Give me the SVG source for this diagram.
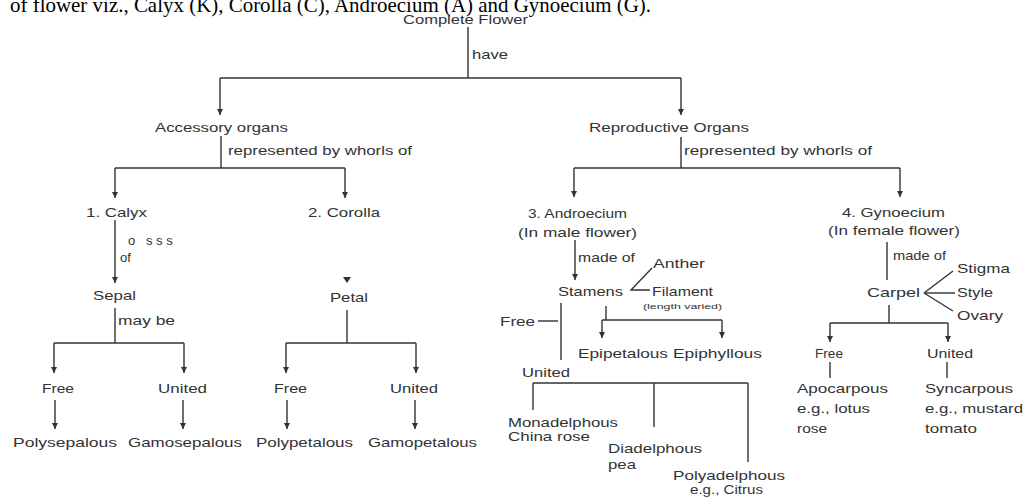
<svg xmlns="http://www.w3.org/2000/svg" width="1027" height="500" viewBox="0 0 1027 500">
<style>
text{font-family:"Liberation Sans",Arial,sans-serif;font-size:13px;fill:#333}
.sm{font-size:8px}
.hd{font-family:"Liberation Serif","Times New Roman",serif;font-size:21px;fill:#000}
.ln{stroke:#333;stroke-width:1.4;fill:none}
</style>
<defs>
<marker id="ah" markerUnits="userSpaceOnUse" markerWidth="7" markerHeight="7" refX="6" refY="3" orient="auto">
<path d="M0,0 L6,3 L0,6 z" fill="#333"/>
</marker>
</defs>
<rect width="1027" height="500" fill="#fff"/>
<text class="hd" x="10" y="12" textLength="641" lengthAdjust="spacingAndGlyphs">of flower viz., Calyx (K), Corolla (C), Androecium (A) and Gynoecium (G).</text>

<g id="connectors" class="ln">
<line x1="468" y1="27" x2="468" y2="78"/>
<line x1="220" y1="78" x2="681" y2="78"/>
<line x1="220" y1="78" x2="220" y2="115" marker-end="url(#ah)"/>
<line x1="681" y1="78" x2="681" y2="115" marker-end="url(#ah)"/>
<line x1="221" y1="136" x2="221" y2="168"/>
<line x1="115" y1="168" x2="345" y2="168"/>
<line x1="115" y1="168" x2="115" y2="198" marker-end="url(#ah)"/>
<line x1="345" y1="168" x2="345" y2="198" marker-end="url(#ah)"/>
<line x1="115" y1="220" x2="115" y2="283" marker-end="url(#ah)"/>
<line x1="115" y1="308" x2="115" y2="343"/>
<line x1="54" y1="343" x2="184" y2="343"/>
<line x1="54" y1="343" x2="54" y2="373" marker-end="url(#ah)"/>
<line x1="184" y1="343" x2="184" y2="373" marker-end="url(#ah)"/>
<line x1="55" y1="400" x2="55" y2="429" marker-end="url(#ah)"/>
<line x1="183" y1="400" x2="183" y2="429" marker-end="url(#ah)"/>
<polygon points="343,277 351,277 347,283" fill="#333" stroke="none"/>
<line x1="347" y1="310" x2="347" y2="343"/>
<line x1="286" y1="343" x2="416" y2="343"/>
<line x1="286" y1="343" x2="286" y2="373" marker-end="url(#ah)"/>
<line x1="416" y1="343" x2="416" y2="373" marker-end="url(#ah)"/>
<line x1="287" y1="400" x2="287" y2="429" marker-end="url(#ah)"/>
<line x1="415" y1="400" x2="415" y2="429" marker-end="url(#ah)"/>
<line x1="681" y1="137" x2="681" y2="168"/>
<line x1="574" y1="168" x2="900" y2="168"/>
<line x1="574" y1="168" x2="574" y2="197" marker-end="url(#ah)"/>
<line x1="900" y1="168" x2="900" y2="197" marker-end="url(#ah)"/>
<line x1="575" y1="240" x2="575" y2="280" marker-end="url(#ah)"/>
<polyline points="652,268 631,290 650,290"/>
<line x1="606" y1="306" x2="606" y2="320"/>
<line x1="602" y1="320" x2="722" y2="320"/>
<line x1="602" y1="320" x2="602" y2="338" marker-end="url(#ah)"/>
<line x1="722" y1="320" x2="722" y2="338" marker-end="url(#ah)"/>
<line x1="538" y1="321" x2="558" y2="321"/>
<line x1="561" y1="303" x2="561" y2="360"/>
<line x1="533" y1="383" x2="748" y2="383"/>
<line x1="533" y1="383" x2="533" y2="410"/>
<line x1="654" y1="383" x2="654" y2="427"/>
<line x1="748" y1="383" x2="748" y2="462"/>
<line x1="887" y1="242" x2="887" y2="280"/>
<line x1="924" y1="293" x2="953" y2="271"/>
<line x1="924" y1="293" x2="955" y2="293"/>
<line x1="924" y1="293" x2="953" y2="311"/>
<line x1="889" y1="305" x2="889" y2="323"/>
<line x1="830" y1="323" x2="948" y2="323"/>
<line x1="830" y1="323" x2="830" y2="342" marker-end="url(#ah)"/>
<line x1="948" y1="323" x2="948" y2="342" marker-end="url(#ah)"/>
<line x1="830" y1="362" x2="830" y2="378"/>
<line x1="947" y1="362" x2="947" y2="378"/>
</g>

<g id="edge-labels">
<text x="472" y="59" textLength="36" lengthAdjust="spacingAndGlyphs">have</text>
<text x="228" y="155" textLength="184" lengthAdjust="spacingAndGlyphs">represented by whorls of</text>
<text x="684" y="155" textLength="188" lengthAdjust="spacingAndGlyphs">represented by whorls of</text>
<text x="128" y="245">o<tspan x="146">s s s</tspan></text>
<text x="120" y="262">of</text>
<text x="118" y="325" textLength="57" lengthAdjust="spacingAndGlyphs">may be</text>
<text x="578" y="262" textLength="57" lengthAdjust="spacingAndGlyphs">made of</text>
<text x="893" y="260" textLength="53" lengthAdjust="spacingAndGlyphs">made of</text>
</g>

<g id="n-complete"><text x="403" y="24" font-size="11" textLength="125" lengthAdjust="spacingAndGlyphs">Complete Flower</text></g>
<g id="n-accessory"><text x="155" y="132" textLength="133" lengthAdjust="spacingAndGlyphs">Accessory organs</text></g>
<g id="n-reproductive"><text x="589" y="132" textLength="160" lengthAdjust="spacingAndGlyphs">Reproductive Organs</text></g>
<g id="n-calyx"><text x="86" y="217" textLength="61" lengthAdjust="spacingAndGlyphs">1. Calyx</text></g>
<g id="n-corolla"><text x="308" y="217" textLength="72" lengthAdjust="spacingAndGlyphs">2. Corolla</text></g>
<g id="n-sepal"><text x="93" y="300" textLength="43" lengthAdjust="spacingAndGlyphs">Sepal</text></g>
<g id="n-petal"><text x="330" y="302" textLength="38" lengthAdjust="spacingAndGlyphs">Petal</text></g>
<g id="n-free1"><text x="42" y="393" textLength="32" lengthAdjust="spacingAndGlyphs">Free</text></g>
<g id="n-united1"><text x="158" y="393" textLength="49" lengthAdjust="spacingAndGlyphs">United</text></g>
<g id="n-free2"><text x="274" y="393" textLength="33" lengthAdjust="spacingAndGlyphs">Free</text></g>
<g id="n-united2"><text x="390" y="393" textLength="48" lengthAdjust="spacingAndGlyphs">United</text></g>
<g id="n-polysepalous"><text x="13" y="447" textLength="104" lengthAdjust="spacingAndGlyphs">Polysepalous</text></g>
<g id="n-gamosepalous"><text x="128" y="447" textLength="114" lengthAdjust="spacingAndGlyphs">Gamosepalous</text></g>
<g id="n-polypetalous"><text x="256" y="447" textLength="97" lengthAdjust="spacingAndGlyphs">Polypetalous</text></g>
<g id="n-gamopetalous"><text x="368" y="447" textLength="109" lengthAdjust="spacingAndGlyphs">Gamopetalous</text></g>
<g id="n-androecium">
<text x="528" y="218" textLength="99" lengthAdjust="spacingAndGlyphs">3. Androecium</text>
<text x="518" y="237" textLength="119" lengthAdjust="spacingAndGlyphs">(In male flower)</text>
</g>
<g id="n-gynoecium">
<text x="842" y="217" textLength="103" lengthAdjust="spacingAndGlyphs">4. Gynoecium</text>
<text x="828" y="235" textLength="132" lengthAdjust="spacingAndGlyphs">(In female flower)</text>
</g>
<g id="n-stamens"><text x="558" y="296" textLength="65" lengthAdjust="spacingAndGlyphs">Stamens</text></g>
<g id="n-anther"><text x="653" y="268" textLength="52" lengthAdjust="spacingAndGlyphs">Anther</text></g>
<g id="n-filament">
<text x="652" y="296" textLength="61" lengthAdjust="spacingAndGlyphs">Filament</text>
<text class="sm" x="643" y="309" textLength="79" lengthAdjust="spacingAndGlyphs">(length varied)</text>
</g>
<g id="n-free3"><text x="500" y="326" textLength="35" lengthAdjust="spacingAndGlyphs">Free</text></g>
<g id="n-united3"><text x="522" y="377" textLength="48" lengthAdjust="spacingAndGlyphs">United</text></g>
<g id="n-epipetalous"><text x="578" y="358" textLength="90" lengthAdjust="spacingAndGlyphs">Epipetalous</text></g>
<g id="n-epiphyllous"><text x="673" y="358" textLength="89" lengthAdjust="spacingAndGlyphs">Epiphyllous</text></g>
<g id="n-monadelphous">
<text x="508" y="427" textLength="110" lengthAdjust="spacingAndGlyphs">Monadelphous</text>
<text x="508" y="441" textLength="82" lengthAdjust="spacingAndGlyphs">China rose</text>
</g>
<g id="n-diadelphous">
<text x="608" y="453" textLength="94" lengthAdjust="spacingAndGlyphs">Diadelphous</text>
<text x="608" y="469" textLength="28" lengthAdjust="spacingAndGlyphs">pea</text>
</g>
<g id="n-polyadelphous">
<text x="673" y="480" textLength="112" lengthAdjust="spacingAndGlyphs">Polyadelphous</text>
<text x="690" y="494" textLength="73" lengthAdjust="spacingAndGlyphs">e.g., Citrus</text>
</g>
<g id="n-carpel"><text x="867" y="297" textLength="53" lengthAdjust="spacingAndGlyphs">Carpel</text></g>
<g id="n-stigma"><text x="957" y="273" textLength="53" lengthAdjust="spacingAndGlyphs">Stigma</text></g>
<g id="n-style"><text x="957" y="297" textLength="36" lengthAdjust="spacingAndGlyphs">Style</text></g>
<g id="n-ovary"><text x="957" y="320" textLength="46" lengthAdjust="spacingAndGlyphs">Ovary</text></g>
<g id="n-free4"><text x="815" y="358" textLength="28" lengthAdjust="spacingAndGlyphs">Free</text></g>
<g id="n-united4"><text x="927" y="358" textLength="46" lengthAdjust="spacingAndGlyphs">United</text></g>
<g id="n-apocarpous">
<text x="797" y="393" textLength="91" lengthAdjust="spacingAndGlyphs">Apocarpous</text>
<text x="797" y="413" textLength="73" lengthAdjust="spacingAndGlyphs">e.g., lotus</text>
<text x="797" y="433" textLength="30" lengthAdjust="spacingAndGlyphs">rose</text>
</g>
<g id="n-syncarpous">
<text x="925" y="393" textLength="88" lengthAdjust="spacingAndGlyphs">Syncarpous</text>
<text x="925" y="413" textLength="98" lengthAdjust="spacingAndGlyphs">e.g., mustard</text>
<text x="925" y="433" textLength="52" lengthAdjust="spacingAndGlyphs">tomato</text>
</g>
</svg>
